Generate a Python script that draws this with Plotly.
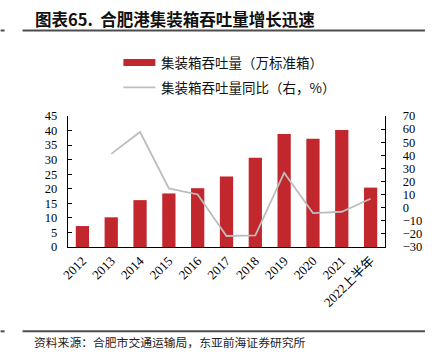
import plotly.graph_objects as go

categories = ["2012", "2013", "2014", "2015", "2016", "2017", "2018", "2019", "2020", "2021", "2022上半年"]
throughput = [7.2, 10.2, 16.1, 18.4, 20.2, 24.2, 30.7, 38.8, 37.2, 40.2, 20.4]
yoy = [None, 41.1, 57.8, 14.7, 10.1, -21.6, -21.1, 26.6, -4.1, -3.1, 6.8]
left_ticks = [0, 5, 10, 15, 20, 25, 30, 35, 40, 45]
right_ticks = [-30, -20, -10, 0, 10, 20, 30, 40, 50, 60, 70]

title_text = "图表65.  合肥港集装箱吞吐量增长迅速"
source_text = "资料来源：合肥市交通运输局，东亚前海证券研究所"
bar_name = "集装箱吞吐量（万标准箱）"
line_name = "集装箱吞吐量同比（右，%）"

W, H = 438, 360
L, R, T, B = 67.5, 53, 115.7, 113
PW, PH = W - L - R, H - T - B

def px(x):
    return (x - L) / PW

def py(y):
    return (H - B - y) / PH

BAR_COLOR = "#C1272D"
LINE_COLOR = "#BDBDBD"
SERIF = "Liberation Serif, Times New Roman, Noto Sans CJK SC, serif"
CJK = "Noto Sans CJK SC, sans-serif"

fig = go.Figure()
fig.add_trace(go.Bar(x=categories, y=throughput, name=bar_name,
                     marker=dict(color=BAR_COLOR, line=dict(width=0)),
                     showlegend=False, hoverinfo="skip"))
fig.add_trace(go.Scatter(x=categories, y=yoy, name=line_name, yaxis="y2",
                         mode="lines", line=dict(color=LINE_COLOR, width=1.8),
                         connectgaps=False, showlegend=False, hoverinfo="skip"))

shapes = [
    dict(type="line", xref="paper", yref="paper", x0=px(22), x1=px(425), y0=py(30), y1=py(30),
         line=dict(color="#4d4d4d", width=2)),
    dict(type="line", xref="paper", yref="paper", x0=px(0), x1=px(4), y0=py(30), y1=py(30),
         line=dict(color="#4d4d4d", width=2)),
    dict(type="line", xref="paper", yref="paper", x0=px(22), x1=px(425), y0=py(331.5), y1=py(331.5),
         line=dict(color="#4d4d4d", width=2)),
    dict(type="line", xref="paper", yref="paper", x0=px(0), x1=px(4), y0=py(331.5), y1=py(331.5),
         line=dict(color="#4d4d4d", width=2)),
    # legend symbols
    dict(type="rect", xref="paper", yref="paper", x0=px(123), x1=px(155), y0=py(58.5), y1=py(65.5),
         fillcolor=BAR_COLOR, line=dict(width=0)),
    dict(type="line", xref="paper", yref="paper", x0=px(123), x1=px(155), y0=py(87), y1=py(87),
         line=dict(color=LINE_COLOR, width=1.8)),
]

annotations = [
    dict(text=title_text, xref="paper", yref="paper", x=px(32), y=py(18), xanchor="left",
         yanchor="middle", showarrow=False, font=dict(family=CJK, size=16.5, color="#111111", weight="bold")),
    dict(text=source_text, xref="paper", yref="paper", x=px(31), y=py(342), xanchor="left",
         yanchor="middle", showarrow=False, font=dict(family=CJK, size=11.8, color="#222222")),
    dict(text=bar_name, xref="paper", yref="paper", x=px(159), y=py(62), xanchor="left",
         yanchor="middle", showarrow=False, font=dict(family=CJK, size=13.5, color="#111111")),
    dict(text=line_name, xref="paper", yref="paper", x=px(159), y=py(87), xanchor="left",
         yanchor="middle", showarrow=False, font=dict(family=CJK, size=13.5, color="#111111")),
]

fig.update_layout(
    width=W, height=H,
    margin=dict(l=L, r=R, t=T, b=B, pad=0, autoexpand=False),
    paper_bgcolor="white", plot_bgcolor="white",
    bargap=0.54,
    showlegend=False,
    hovermode=False,
    shapes=shapes,
    annotations=annotations,
    xaxis=dict(type="category", showline=True, linecolor="black", linewidth=1.3,
               ticks="", tickangle=-45, showgrid=False, zeroline=False, automargin=False,
               tickfont=dict(family=SERIF, size=13, color="black"),
               range=[-0.5, 10.5]),
    yaxis=dict(range=[0, 45], tickvals=left_ticks, showline=True, linecolor="black", linewidth=1.3,
               ticks="inside", ticklen=4, tickcolor="black", showgrid=False, zeroline=False,
               automargin=False,
               tickfont=dict(family=SERIF, size=12.5, color="black"), ticklabelstandoff=7),
    yaxis2=dict(range=[-30, 70], tickvals=right_ticks, overlaying="y", side="right",
                showline=True, linecolor="black", linewidth=1.3, automargin=False,
                ticks="inside", ticklen=4, tickcolor="black", showgrid=False, zeroline=False,
                tickfont=dict(family=SERIF, size=12.5, color="black"), ticklabelstandoff=14),
)

fig.write_html("out.html", config={"displayModeBar": False},
               post_script="document.body.style.margin='0';document.body.style.padding='0';")
